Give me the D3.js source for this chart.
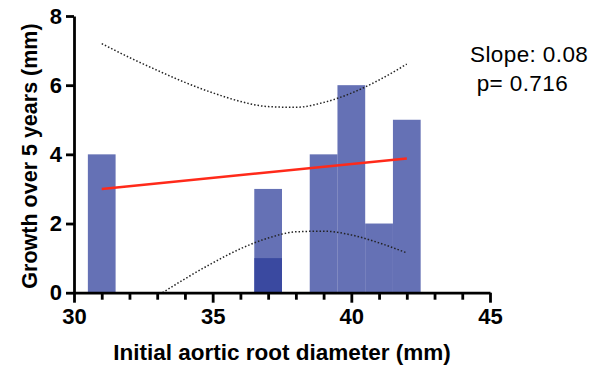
<!DOCTYPE html>
<html>
<head>
<meta charset="utf-8">
<script src="https://cdn.jsdelivr.net/npm/d3@7"></script>
<style>
  body { margin: 0; background: #fff; }
  text { font-family: "Liberation Sans", Arial, sans-serif; }
</style>
</head>
<body>
<svg id="chart" width="594" height="366"></svg>
<script>
// data points (diameter, growth) drawn as overlapping bars
const diameters = [31, 37, 37, 39, 40, 41, 42];
const growth = [4, 3, 1, 4, 6, 2, 5];

// fitted line end points
const fitX = [31, 42];
const fitY = [3.0, 3.88];

// 95% confidence band
const bandX = [31, 32, 33, 34, 35, 36, 37, 38, 39, 40, 41, 42];
const bandUpper = [7.2, 6.8, 6.43, 6.08, 5.78, 5.53, 5.38, 5.36, 5.5, 5.77, 6.15, 6.61];
const bandLower = [-1.2, -0.64, -0.1, 0.4, 0.86, 1.27, 1.58, 1.76, 1.78, 1.67, 1.44, 1.15];

const xTicks = [30, 35, 40, 45];
const yTicks = [0, 2, 4, 6, 8];
const annot = ["Slope: 0.08", " p= 0.716"];

const svg = d3.select("#chart");

const x = d3.scaleLinear().domain([30, 45]).range([74, 490]);
const y = d3.scaleLinear().domain([0, 8]).range([292.7, 16]);

svg.append("defs").append("clipPath").attr("id", "plot")
  .append("rect")
    .attr("x", x(30)).attr("y", y(8))
    .attr("width", x(45) - x(30)).attr("height", y(0) - y(8));

// bars, semi transparent so overlap shows darker
svg.append("g")
  .selectAll("rect")
  .data(diameters.map((d, i) => ({ x: d, y: growth[i] })))
  .join("rect")
    .attr("x", d => x(d.x - 0.5))
    .attr("width", d => x(d.x + 0.5) - x(d.x - 0.5))
    .attr("y", d => y(d.y))
    .attr("height", d => y(0) - y(d.y))
    .attr("fill", "rgb(42,58,152)")
    .attr("fill-opacity", 0.72);

// confidence bands
const band = vals => d3.line()
  .x((d, i) => x(bandX[i]))
  .y(d => y(d))
  .curve(d3.curveMonotoneX)(vals);

const bands = svg.append("g").attr("clip-path", "url(#plot)");
[bandUpper, bandLower].forEach(v => {
  bands.append("path")
    .attr("d", band(v))
    .attr("fill", "none")
    .attr("stroke", "#222")
    .attr("stroke-width", 1.5)
    .attr("stroke-dasharray", "1.5,2");
});

// regression line
svg.append("line")
  .attr("x1", x(fitX[0])).attr("y1", y(fitY[0]))
  .attr("x2", x(fitX[1])).attr("y2", y(fitY[1]))
  .attr("stroke", "#ff2a1a")
  .attr("stroke-width", 2.5);

// x axis with minor ticks
const xAxis = svg.append("g").attr("transform", `translate(0,${y(0)})`);
xAxis.append("g")
  .call(d3.axisBottom(x).tickValues(d3.range(31, 45).filter(v => v % 5)).tickSize(7).tickFormat(""))
  .call(g => g.select(".domain").remove());
xAxis.append("g")
  .call(d3.axisBottom(x).tickValues(xTicks).tickSize(10).tickSizeOuter(0).tickPadding(6))
  .call(g => g.selectAll("text").attr("font-size", 22).attr("font-weight", "bold").attr("fill", "#000"));
xAxis.selectAll("line, path").attr("stroke", "#000").attr("stroke-width", 2.8);

// y axis
svg.append("g")
  .attr("transform", `translate(${x(30)},0)`)
  .call(d3.axisLeft(y).tickValues(yTicks).tickSize(8).tickSizeOuter(0).tickPadding(4))
  .call(g => g.selectAll("line, path").attr("stroke", "#000").attr("stroke-width", 2.8))
  .call(g => g.selectAll("text").attr("font-size", 22).attr("font-weight", "bold").attr("fill", "#000"));

// axis titles
svg.append("text")
  .attr("x", 282)
  .attr("y", 360)
  .attr("text-anchor", "middle")
  .attr("font-size", 22.5)
  .attr("font-weight", "bold")
  .text("Initial aortic root diameter (mm)");

svg.append("text")
  .attr("transform", "translate(37,156) rotate(-90)")
  .attr("text-anchor", "middle")
  .attr("font-size", 21.5)
  .attr("font-weight", "bold")
  .text("Growth over 5 years (mm)");

// annotation
svg.append("g")
  .selectAll("text")
  .data(annot)
  .join("text")
    .attr("x", 470)
    .attr("y", (d, i) => 62 + i * 29)
    .attr("font-size", 22.5)
    .attr("letter-spacing", 0.4)
    .style("white-space", "pre")
    .text(d => d);
</script>
</body>
</html>
